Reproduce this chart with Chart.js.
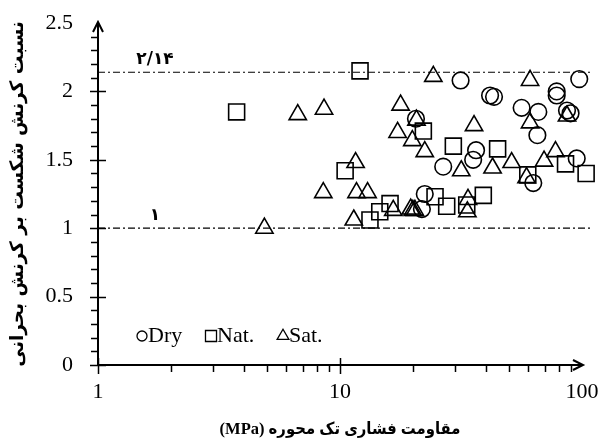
<!DOCTYPE html>
<html>
<head>
<meta charset="utf-8">
<script src="https://cdn.jsdelivr.net/npm/chart.js@4.4.1/dist/chart.umd.min.js"></script>
<style>
  html, body { margin: 0; padding: 0; background: #fff; }
  #wrap { width: 613px; height: 443px; }
</style>
</head>
<body>
<div id="wrap"><canvas id="chart" width="613" height="443"></canvas></div>
<script>
// Uniaxial compressive strength (MPa) and failure-to-critical strain ratio
const dryStrength = [31.5, 41.7, 43.3, 97.4, 78.6, 78.6, 56.3, 66.0, 86.7, 89.7, 20.6, 65.4, 36.5, 35.5, 26.7, 95.1, 62.9, 22.4, 21.8];
const dryRatio    = [2.08, 1.97, 1.96, 2.09, 2.00, 1.97, 1.88, 1.85, 1.86, 1.84, 1.80, 1.68, 1.57, 1.50, 1.45, 1.51, 1.33, 1.25, 1.14];

const natStrength = [3.74, 12.1, 10.5, 13.3, 14.6, 16.1, 22.1, 29.4, 44.8, 85.5, 104, 59.7, 24.7, 27.6, 33.4, 39.1];
const natRatio    = [1.85, 2.15, 1.42, 1.06, 1.12, 1.18, 1.71, 1.60, 1.58, 1.47, 1.40, 1.39, 1.23, 1.16, 1.17, 1.24];

const satStrength = [4.87, 6.69, 8.59, 8.53, 11.6, 11.7, 13.0, 11.4, 16.6, 19.6, 20.0, 20.4, 24.3, 17.8, 20.7, 17.3, 19.9, 22.4, 35.8, 61.0, 61.0, 86.7, 31.7, 42.7, 51.2, 69.7, 77.7, 59.0, 33.8, 33.6];
const satRatio    = [1.00, 1.83, 1.87, 1.26, 1.48, 1.26, 1.26, 1.06, 1.13, 1.14, 1.13, 1.13, 2.11, 1.90, 1.79, 1.70, 1.64, 1.56, 1.75, 2.08, 1.77, 1.82, 1.42, 1.44, 1.48, 1.49, 1.56, 1.37, 1.21, 1.12];

const seriesNames = ['Dry', 'Nat.', 'Sat.'];
const yTicks = [0, 0.5, 1, 1.5, 2, 2.5];
const xTickLabels = [1, 10, 100];

// Reference ratio lines
const refRatios = [2.14, 1];
const refLineStart = 1;
const refLineEnd = 111;

// Right-to-left embedding keeps "(MPa)" at the left end of the Persian title
const xTitle = '\u202Bمقاومت فشاری تک محوره (MPa)\u202C';
const yTitle = '\u202Bنسبت کرنش شکست بر کرنش بحرانی\u202C';

const toPoints = (xs, ys) => xs.map((x, i) => ({ x, y: ys[i] }));
const persianDigits = v => String(v).replace('.', '/').replace(/\d/g, d => '۰۱۲۳۴۵۶۷۸۹'[+d]);

const markerStyle = {
  borderColor: '#000',
  backgroundColor: 'rgba(0,0,0,0)',
  borderWidth: 1.6,
  clip: false
};

const datasets = [
  Object.assign({ label: seriesNames[0], data: toPoints(dryStrength, dryRatio), pointStyle: 'circle', pointRadius: 8.3 }, markerStyle),
  Object.assign({ label: seriesNames[1], data: toPoints(natStrength, natRatio), pointStyle: 'rect', pointRadius: 11.3 }, markerStyle),
  Object.assign({ label: seriesNames[2], data: toPoints(satStrength, satRatio), pointStyle: 'triangle', pointRadius: 10 }, markerStyle)
];
refRatios.forEach(r => datasets.push({
  label: 'ref',
  type: 'line',
  data: [{ x: refLineStart, y: r }, { x: refLineEnd, y: r }],
  showLine: true,
  pointRadius: 0,
  borderColor: '#000',
  borderWidth: 1.2,
  borderDash: [7, 3, 2, 3],
  clip: false
}));

// Axis ticks (major crossing, minor outside), arrowheads, line labels and legend
const axisDecor = {
  id: 'axisDecor',
  afterDraw(chart) {
    const { ctx, chartArea: a, scales: { x, y } } = chart;
    ctx.save();
    ctx.strokeStyle = '#000';
    ctx.lineWidth = 1.5;
    ctx.beginPath();
    for (let i = 0; i < 25; i++) {
      const py = Math.round(y.getPixelForValue(i / 10)) + 0.5;
      if (i % 5 === 0) { ctx.moveTo(a.left - 8, py); ctx.lineTo(a.left + 8, py); }
      else { ctx.moveTo(a.left - 7, py); ctx.lineTo(a.left, py); }
    }
    [1, 10].forEach(dec => {
      for (let k = 1; k <= 9; k++) {
        const px = Math.round(x.getPixelForValue(dec * k)) + 0.5;
        if (k === 1) { ctx.moveTo(px, a.bottom - 7); ctx.lineTo(px, a.bottom + 9); }
        else { ctx.moveTo(px, a.bottom); ctx.lineTo(px, a.bottom + 7); }
      }
    });
    ctx.stroke();

    // arrowheads
    ctx.lineWidth = 2;
    ctx.beginPath();
    ctx.moveTo(a.left - 5, a.top + 9); ctx.lineTo(a.left, a.top - 1); ctx.lineTo(a.left + 5, a.top + 9);
    ctx.moveTo(a.right - 9, a.bottom - 5); ctx.lineTo(a.right + 1, a.bottom); ctx.lineTo(a.right - 9, a.bottom + 5);
    ctx.stroke();

    // reference line labels
    ctx.fillStyle = '#000';
    ctx.font = 'bold 17px "DejaVu Sans"';
    ctx.textAlign = 'center';
    ctx.textBaseline = 'alphabetic';
    refRatios.forEach(r => {
      ctx.fillText(persianDigits(r), x.getPixelForValue(1.72), y.getPixelForValue(r) - 8);
    });

    // legend
    const lx = [a.left + 44, a.left + 113, a.left + 185];
    const ly = a.bottom - 29;
    const sizes = [5, 7.8, 6.8];
    ctx.font = '22px "Liberation Serif"';
    ctx.textAlign = 'left';
    ctx.textBaseline = 'middle';
    chart.data.datasets.slice(0, 3).forEach((ds, i) => {
      ctx.fillStyle = 'rgba(0,0,0,0)';
      ctx.strokeStyle = '#000';
      ctx.lineWidth = 1.3;
      Chart.helpers.drawPoint(ctx, { pointStyle: ds.pointStyle, radius: sizes[i], rotation: 0, borderWidth: 1.3 }, lx[i], ly);
      ctx.fillStyle = '#000';
      ctx.fillText(ds.label, lx[i] + 6, ly);
    });
    ctx.restore();
  }
};

new Chart(document.getElementById('chart'), {
  type: 'scatter',
  data: { datasets },
  options: {
    responsive: false,
    animation: false,
    layout: { padding: { top: 23, right: 31, left: 0, bottom: 0 } },
    plugins: { legend: { display: false }, tooltip: { enabled: false } },
    scales: {
      x: {
        type: 'logarithmic',
        min: 1, max: 100,
        afterFit: s => { s.height = 78; },
        afterBuildTicks: s => { s.ticks = xTickLabels.map(v => ({ value: v })); },
        grid: { display: false, drawTicks: true, tickLength: 14 },
        border: { display: true, color: '#000', width: 2 },
        ticks: {
          autoSkip: false, maxRotation: 0, padding: 0, color: '#000',
          font: { family: '"Liberation Serif"', size: 22 },
          callback: v => String(v)
        },
        title: {
          display: true, text: xTitle, color: '#000',
          font: { family: '"Liberation Serif", "DejaVu Sans Condensed", "DejaVu Sans"', size: 16.5, weight: 'bold' },
          padding: { top: 0, bottom: 3 }
        }
      },
      y: {
        min: 0, max: 2.5,
        afterFit: s => { s.width = 98; },
        afterBuildTicks: s => { s.ticks = yTicks.map(v => ({ value: v })); },
        grid: { display: false, drawTicks: true, tickLength: 25 },
        border: { display: true, color: '#000', width: 2 },
        ticks: {
          padding: 0, color: '#000',
          font: { family: '"Liberation Serif"', size: 22 },
          callback: v => String(v)
        },
        title: {
          display: true, text: yTitle, color: '#000',
          font: { family: '"DejaVu Sans"', size: 18.5, weight: 'bold' },
          padding: { top: 7, bottom: 0 }
        }
      }
    }
  },
  plugins: [axisDecor]
});
</script>
</body>
</html>
